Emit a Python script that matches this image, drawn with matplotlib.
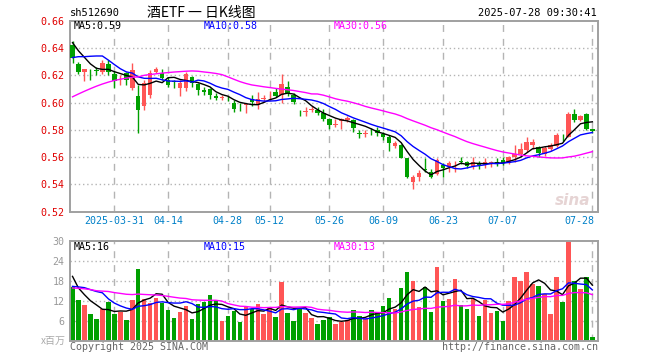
import matplotlib
matplotlib.use('Agg')
import matplotlib.pyplot as plt
import matplotlib.transforms as mtransforms
import numpy as np

# ---------------- data ----------------
opens = [.6420, .6284, .6226, .6232, .6238, .6223, .6284, .6211, .6155, .6218,
         .6110, .6046, .5974, .6053, .6223, .6218, .6165, .6158, .6104, .6106,
         .6190, .6138, .6090, .6098, .6050, .6034, .6035, .6000, .5962, .5980,
         .6026, .5985, .6026, .6052, .6081, .6055, .6113, .6057, .5933, .5934,
         .5945, .5948, .5924, .5876, .5834, .5863, .5871, .5871, .5775, .5768,
         .5793, .5799, .5773, .5749, .5683, .5688, .5590, .5415, .5456, .5512,
         .5488, .5473, .5541, .5529, .5561, .5567, .5561, .5537, .5545, .5542,
         .5558, .5563, .5575, .5554, .5597, .5621, .5653, .5686, .5677, .5621,
         .5657, .5682, .5768, .5749, .5918, .5875, .5918, .5807]
highs = [.6450, .6296, .6248, .6247, .6260, .6315, .6315, .6235, .6200, .6223,
         .6289, .6126, .6163, .6240, .6264, .6250, .6189, .6165, .6165, .6225,
         .6197, .6143, .6114, .6105, .6070, .6057, .6050, .6020, .5997, .5990,
         .6052, .6081, .6057, .6086, .6105, .6207, .6161, .6069, .5948, .5967,
         .5972, .5967, .5953, .5888, .5877, .5888, .5902, .5878, .5797, .5797,
         .5810, .5819, .5787, .5761, .5717, .5693, .5595, .5468, .5505, .5590,
         .5512, .5590, .5554, .5571, .5571, .5597, .5573, .5597, .5568, .5590,
         .5573, .5590, .5597, .5609, .5687, .5706, .5749, .5730, .5682, .5682,
         .5701, .5778, .5768, .5928, .5952, .5911, .5923, .5807]
lows = [.6290, .6211, .6158, .6165, .6200, .6210, .6200, .6110, .6130, .6130,
        .6090, .5780, .5945, .6030, .6220, .6165, .6116, .6104, .6046, .6087,
        .6116, .6053, .6053, .6026, .6016, .6016, .6010, .5929, .5935, .5924,
        .5972, .5953, .6001, .6021, .6040, .6000, .6045, .5992, .5900, .5900,
        .5930, .5912, .5863, .5803, .5824, .5805, .5854, .5785, .5741, .5749,
        .5761, .5756, .5724, .5644, .5668, .5590, .5444, .5366, .5424, .5488,
        .5449, .5468, .5456, .5488, .5488, .5549, .5517, .5512, .5510, .5517,
        .5525, .5537, .5541, .5549, .5566, .5609, .5638, .5662, .5604, .5609,
        .5645, .5677, .5718, .5749, .5856, .5863, .5802, .5778]
closes = [.6330, .6223, .6243, .6228, .6233, .6291, .6223, .6158, .6160, .6163,
          .6240, .5945, .6140, .6218, .6245, .6182, .6128, .6153, .6140, .6208,
          .6143, .6090, .6080, .6055, .6030, .6039, .6030, .5953, .5957, .5985,
          .6001, .6026, .6034, .6057, .6050, .6135, .6069, .6001, .5928, .5938,
          .5950, .5924, .5876, .5834, .5846, .5883, .5888, .5810, .5771, .5778,
          .5788, .5780, .5749, .5700, .5705, .5595, .5456, .5456, .5480, .5502,
          .5456, .5578, .5517, .5554, .5566, .5562, .5532, .5566, .5540, .5561,
          .5563, .5558, .5556, .5602, .5626, .5657, .5711, .5711, .5628, .5669,
          .5686, .5759, .5766, .5918, .5875, .5904, .5807, .5790]
volumes = [16.0, 12.3, 10.8, 8.0, 6.6, 9.5, 11.7, 8.1, 8.7, 6.3,
           12.1, 21.5, 12.5, 11.4, 12.9, 11.4, 9.3, 6.8, 8.7, 10.3,
           6.6, 11.1, 11.5, 13.7, 12.2, 5.9, 7.5, 8.8, 5.6, 10.3,
           9.4, 11.0, 8.1, 9.8, 7.1, 17.5, 8.3, 6.0, 9.8, 8.2,
           6.8, 5.1, 6.2, 7.2, 5.0, 5.6, 6.2, 9.3, 7.4, 6.5,
           9.3, 8.5, 10.4, 12.8, 9.4, 15.8, 20.6, 18.0, 10.1, 16.0,
           8.6, 22.1, 12.0, 12.5, 18.5, 10.6, 9.5, 12.6, 7.4, 12.2,
           8.3, 9.0, 6.0, 12.0, 19.1, 18.0, 20.6, 17.0, 16.5, 14.0,
           8.0, 19.0, 11.5, 29.8, 18.0, 15.5, 19.0, 1.0]
# sessions before the visible window (estimated from where the MA lines start)
prior_closes = [.5593, .5643, .5658, .5693, .5811, .5803, .5798, .5890, .5923, .6030,
                .5880, .5785, .6038, .6095, .6032, .6008, .6033, .6050, .6118, .6083,
                .6155, .6243, .6198, .6213, .6291, .6525, .6483, .6468, .6394]
prior_volumes = [14, 16, 15, 17, 13, 15, 18, 16, 14, 15, 17, 16, 14, 15, 16, 17, 15, 16, 14, 18,
                 14, 13, 14, 12, 13.5, 29.8, 20.8, 17.0, 12.9]

tick_idx = [7, 16, 26, 33, 43, 52, 62, 72, 87]
tick_labels = ['2025-03-31', '04-14', '04-28', '05-12', '05-26', '06-09', '06-23', '07-07', '07-28']
price_ticks = [0.52, 0.54, 0.56, 0.58, 0.60, 0.62, 0.64, 0.66]
vol_ticks = [6, 12, 18, 24, 30]
ma_windows = [5, 10, 30]
ma_colors = ['#000000', '#0000ff', '#ff00ff']

symbol = 'sh512690'
title = '酒ETF 一 日K线图'
stamp = '2025-07-28 09:30:41'

# ---------------- helpers ----------------
def rolling(prior, vals, w):
    full = np.array(list(prior) + list(vals), dtype=float)
    out = np.convolve(full, np.ones(w) / w, mode='valid')
    return out[-len(vals):]

n = len(closes)
x = np.arange(n)
o = np.array(opens); c = np.array(closes); h = np.array(highs); l = np.array(lows)
RED, GREEN = '#ff5555', '#00a000'
cols = [RED if ci >= oi else GREEN for oi, ci in zip(o, c)]

MONO = 'DejaVu Sans Mono'
FS = 7.2
W, H = 660, 360

fig = plt.figure(figsize=(6.6, 3.6), dpi=100)
fig.patch.set_facecolor('white')

def fx(px):
    return px / W

def fy(py):
    return 1 - py / H

ax = fig.add_axes([fx(70), fy(211.6), fx(598) - fx(70), fy(20.8) - fy(211.6)])
axv = fig.add_axes([fx(70), fy(340.7), fx(598) - fx(70), fy(240.7) - fy(340.7)])

xlim = (-0.42, 87.94)
for a in (ax, axv):
    a.set_xlim(*xlim)
    a.set_xticks([])
    for s in a.spines.values():
        s.set_color('#a0a0a0')
        s.set_linewidth(1.4)
    for t in tick_idx:
        a.axvline(t, color='#b4b4b4', lw=1, ls=(0, (5, 5)), zorder=0)
    a.tick_params(axis='y', length=0, pad=4)

# ---- price panel ----
ax.set_ylim(0.52, 0.66)
ax.set_yticks(price_ticks)
ax.set_yticklabels([f'{v:.2f}' for v in price_ticks], fontfamily=MONO, fontsize=FS, color='#e00000')
for v in price_ticks[1:-1]:
    ax.axhline(v, color='#b4b4b4', lw=1, ls=(0, (1, 2)), zorder=0)

ax.vlines(x, l, h, colors=cols, lw=1, zorder=2)
body = np.maximum(np.abs(c - o), 0.0006)
ax.bar(x, body, bottom=np.minimum(o, c), width=0.75, color=cols, zorder=3, linewidth=0)

pmas = [rolling(prior_closes, closes, w) for w in ma_windows]
for m, col in zip(pmas, ma_colors):
    ax.plot(x, m, color=col, lw=1, zorder=4)

trans = mtransforms.blended_transform_factory(ax.transData, ax.transAxes)
for t, lab in zip(tick_idx, tick_labels):
    ha = 'right' if t == tick_idx[-1] else 'center'
    xx = t + 0.4 if ha == 'right' else t
    ax.text(xx, -0.048, lab, transform=trans, ha=ha, va='center',
            fontfamily=MONO, fontsize=FS, color='#0080c8')

ax.text(0.985, 0.06, 'sina', transform=ax.transAxes, ha='right', va='center',
        fontsize=11, fontstyle='italic', fontweight='bold', color='#e6d4d4', zorder=1)

# ---- volume panel ----
axv.set_ylim(0, 30)
axv.set_yticks(vol_ticks)
axv.set_yticklabels([str(v) for v in vol_ticks], fontfamily=MONO, fontsize=FS, color='#999999')
for v in vol_ticks[:-1]:
    axv.axhline(v, color='#b4b4b4', lw=1, ls=(0, (1, 2)), zorder=0)
axv.bar(x, volumes, width=0.75, color=cols, zorder=2, linewidth=0)
vmas = [rolling(prior_volumes, volumes, w) for w in ma_windows]
for m, col in zip(vmas, ma_colors):
    axv.plot(x, m, color=col, lw=1, zorder=4)

# ---- texts ----
fig.text(fx(70), fy(13), symbol, ha='left', va='center', fontfamily=MONO, fontsize=FS + 0.3)
fig.text(fx(201), fy(12.5), title, ha='center', va='center',
         fontfamily=['Noto Sans CJK SC', 'DejaVu Sans'], fontsize=10)
fig.text(fx(597), fy(13), stamp, ha='right', va='center', fontfamily=MONO, fontsize=FS + 0.3)

ma_x = [74, 204, 334]
for w, m, col, xx in zip(ma_windows, pmas, ma_colors, ma_x):
    fig.text(fx(xx), fy(26), f'MA{w}:{m[-1]:.2f}', ha='left', va='center',
             fontfamily=MONO, fontsize=FS, color=col)
for w, m, col, xx in zip(ma_windows, vmas, ma_colors, ma_x):
    fig.text(fx(xx), fy(246.5), f'MA{w}:{int(m[-1])}', ha='left', va='center',
             fontfamily=MONO, fontsize=FS, color=col)

fig.text(fx(66), fy(341), 'x百万', ha='right', va='center',
         fontfamily=['Noto Sans CJK SC', 'DejaVu Sans'], fontsize=FS, color='#aaaaaa')
fig.text(fx(70), fy(347.5), 'Copyright 2025 SINA.COM', ha='left', va='center',
         fontfamily=MONO, fontsize=FS, color='#666666')
fig.text(fx(598), fy(347.5), 'http://finance.sina.com.cn', ha='right', va='center',
         fontfamily=MONO, fontsize=FS, color='#666666')

fig.savefig('out.png', dpi=100, facecolor='white')
